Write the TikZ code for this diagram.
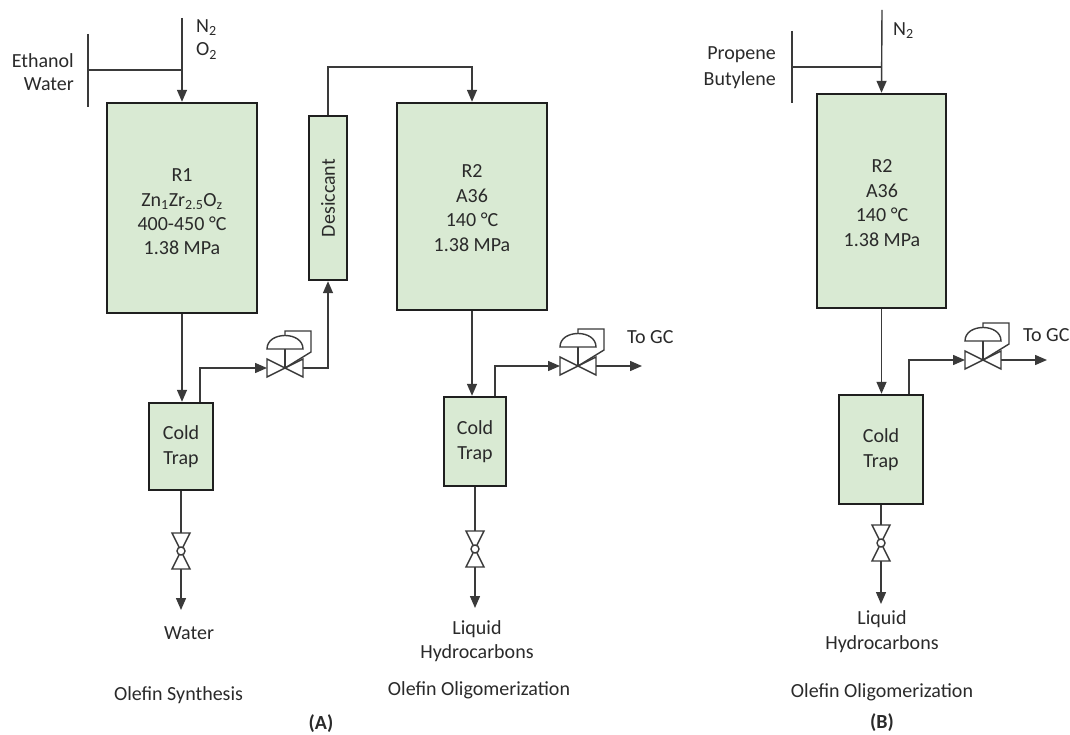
\documentclass[tikz,border=0pt]{standalone}
\usepackage{fontspec}
\setmainfont{Carlito}
\usetikzlibrary{arrows.meta}
\definecolor{boxfill}{HTML}{D9EAD3}
\definecolor{linec}{HTML}{3A3A3A}
\definecolor{txtc}{HTML}{2A2A2A}
\begin{document}
\begin{tikzpicture}[x=1pt,y=-1pt,
  line/.style={draw=linec, line width=1.4pt},
  flow/.style={line, -{Triangle[length=12pt,width=10pt]}},
  vline/.style={draw=linec, line width=1.4pt, line join=miter},
  vessel/.style={draw=black!88, line width=2.4pt, fill=boxfill, inner sep=0pt,
    text=txtc, align=center, font=\fontsize{20}{24.4}\selectfont},
  lbl/.style={text=txtc, inner sep=0pt, align=center, font=\fontsize{20}{24.4}\selectfont},
  cvalve/.pic={
    \draw[vline] (-18,-9) -- (0,0) -- (-18,9) -- cycle;
    \draw[vline] (18,-9) -- (0,0) -- (18,9) -- cycle;
    \draw[vline] (0,0) -- (0,-19);
    \draw[vline] (-18,-19) .. controls (-18,-37) and (18,-37) .. (18,-19) -- cycle;
    \draw[vline] (0,-32.5) -- (0,-37) -- (26,-37) -- (26,-16) -- (0,0);
    \coordinate (-in) at (-18,0);
    \coordinate (-out) at (18,0);
  },
  dvalve/.pic={
    \draw[vline] (-9,-18) -- (9,-18) -- (0,0) -- cycle;
    \draw[vline] (-9,18) -- (9,18) -- (0,0) -- cycle;
    \draw[vline, fill=white] (0,0) circle[radius=4pt];
    \coordinate (-in) at (0,-18);
    \coordinate (-out) at (0,18);
  }]
\path[use as bounding box, fill=white] (0,0) rectangle (1070,735);

% ================= Panel A =================
\node[vessel, minimum width=150pt, minimum height=210pt] (r1) at (182,208) {};
\node[lbl] (r1t) at (182,212) {R1\\Zn\textsubscript{1}Zr\textsubscript{2.5}O\textsubscript{z}\\400-450 °C\\1.38 MPa};

\node[vessel, minimum width=38pt, minimum height=164pt] (des) at (328,198) {};
\node[lbl, rotate=90] (dest) at (328,198) {Desiccant};

\node[vessel, minimum width=150pt, minimum height=207pt] (r2) at (472,206.5) {};
\node[lbl] (r2t) at (472,208) {R2\\A36\\140 °C\\1.38 MPa};

\node[vessel, minimum width=64pt, minimum height=87pt] (ct1) at (181,446.5) {Cold\\Trap};
\node[vessel, minimum width=62pt, minimum height=89pt] (ct2) at (475,441.5) {Cold\\Trap};

\pic (v1) at (285,368) {cvalve};
\pic (v2) at (578,366) {cvalve};
\pic (d1) at (181,551) {dvalve};
\pic (d2) at (475,549) {dvalve};

% inlets A
\coordinate (n2a) at (182,18);
\coordinate (ewtop) at (88,34);
\coordinate (ewbot) at (88,107);
\coordinate (ewj) at (88,70);
\coordinate (n2j) at (182,70);
\draw[flow] (n2a) -- (r1.north);
\draw[line] (ewtop) -- (ewbot);
\draw[line] (ewj) -- (n2j);
\node[lbl, anchor=west] (n2alab) at (196,28) {N\textsubscript{2}};
\node[lbl, anchor=west] (o2alab) at (196,51) {O\textsubscript{2}};
\node[lbl, anchor=east] (ethlab) at (74,61) {Ethanol};
\node[lbl, anchor=east] (watlab) at (74,84) {Water};

% flows A
\coordinate (topj) at (400,67);
\draw[flow] (r1.south) -- (r1.south |- ct1.north);
\draw[flow] ([xshift=19pt]ct1.north) |- (v1-in);
\draw[flow] (v1-out) -| (des.south);
\draw[flow] (des.north) -- (des.north |- topj) -| (r2.north);
\draw[flow] (r2.south) -- (r2.south |- ct2.north);
\draw[flow] ([xshift=20pt]ct2.north) |- (v2-in);
\coordinate (gca) at (642,366);
\draw[flow] (v2-out) -- (gca);
\node[lbl, anchor=west] (gcalab) at (627,337) {To GC};

\coordinate (wa) at (181,610);
\draw[line] (ct1.south) -- (d1-in);
\draw[flow] (d1-out) -- (wa);
\node[lbl] (waterlab) at (189,633) {Water};

\coordinate (hca) at (475,608);
\draw[line] (ct2.south) -- (d2-in);
\draw[flow] (d2-out) -- (hca);
\node[lbl] (hcalab) at (477,641) {Liquid\\Hydrocarbons};

\node[lbl] (synlab) at (178.5,695) {Olefin Synthesis};
\node[lbl] (oliga) at (479,690) {Olefin Oligomerization};
\node[lbl, font=\fontsize{20}{24.4}\selectfont\bfseries] (alab) at (321,724) {(A)};

% ================= Panel B =================
\node[vessel, minimum width=129pt, minimum height=214pt] (r2b) at (881.5,201) {};
\node[lbl] (r2bt) at (882,203) {R2\\A36\\140 °C\\1.38 MPa};
\node[vessel, minimum width=84pt, minimum height=109pt] (ctb) at (881,449.5) {Cold\\Trap};

\pic (v3) at (983,360) {cvalve};
\pic (d3) at (881,543) {dvalve};

\coordinate (n2b) at (882,10);
\coordinate (pbtop) at (792,31);
\coordinate (pbbot) at (792,103);
\coordinate (pbj) at (792,67);
\coordinate (n2bj) at (882,67);
\draw[flow] (n2b) -- (r2b.north);
\draw[line] (pbtop) -- (pbbot);
\draw[line] (pbj) -- (n2bj);
\node[lbl, anchor=west] (n2blab) at (893,31) {N\textsubscript{2}};
\node[lbl, anchor=east] (prolab) at (776,55) {Propene};
\node[lbl, anchor=east] (butlab) at (776,80) {Butylene};

\draw[flow] (r2b.south) -- (r2b.south |- ctb.north);
\draw[flow] ([xshift=28pt]ctb.north) |- (v3-in);
\coordinate (gcb) at (1047,360);
\draw[flow] (v3-out) -- (gcb);
\node[lbl, anchor=west] (gcblab) at (1023,335) {To GC};

\coordinate (hcb) at (881,604);
\draw[line] (ctb.south) -- (d3-in);
\draw[flow] (d3-out) -- (hcb);
\node[lbl] (hcblab) at (882,631.5) {Liquid\\Hydrocarbons};
\node[lbl] (oligb) at (882,692) {Olefin Oligomerization};
\node[lbl, font=\fontsize{20}{24.4}\selectfont\bfseries] (blab) at (882,723) {(B)};
\end{tikzpicture}
\end{document}
